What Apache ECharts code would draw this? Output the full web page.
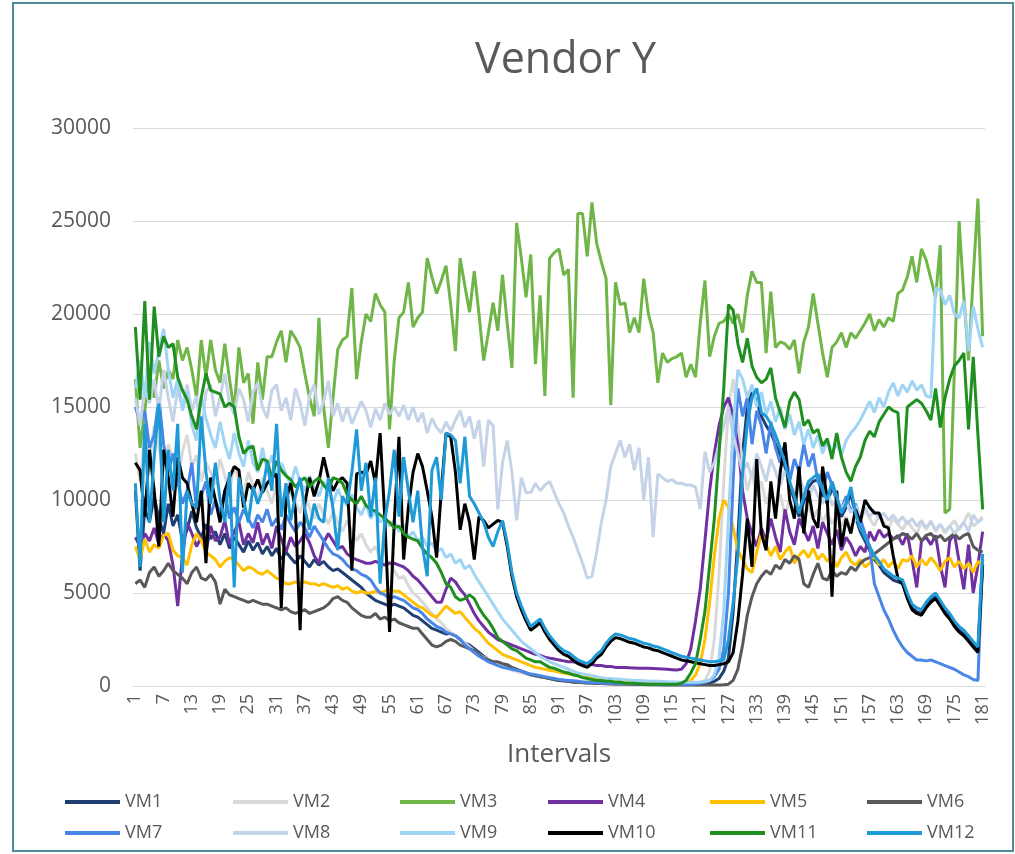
<!DOCTYPE html>
<html>
<head>
<meta charset="utf-8">
<title>Vendor Y</title>
<script src="https://cdn.jsdelivr.net/npm/echarts/dist/echarts.min.js"></script>
<style>
    html, body { margin: 0; padding: 0; background: #fff; }
    #main { width: 1015px; height: 854px; }
</style>
</head>
<body>
<div id="main"></div>
<script>
// interval numbers 1..181 on the x axis
var intervals = Array.from({length: 181}, function (_, i) { return String(i + 1); });
var yTicks = [0, 5000, 10000, 15000, 20000, 25000, 30000];

var vmNames = ['VM1', 'VM2', 'VM3', 'VM4', 'VM5', 'VM6', 'VM7', 'VM8', 'VM9', 'VM10', 'VM11', 'VM12'];
var vmColors = ['#1f3f73', '#d9d9d9', '#70b548', '#7030a0', '#ffc000', '#595959',
                '#4a86e8', '#c5d3e8', '#a0d4f5', '#000000', '#1f8f1f', '#1e9bd7'];

var vm1 = [10500,6200,9500,8800,10200,9000,8200,9800,8600,9200,
    7800,8400,9400,8500,8000,8700,7900,8300,7600,8200,
    7400,8000,7600,7200,7800,7300,7700,7100,7500,7000,
    7400,6800,7200,6900,6600,7000,6700,6400,6800,6500,
    6700,6400,6200,6300,6100,5900,5700,5500,5300,5000,
    4800,4600,4500,4400,4300,4400,4300,4200,4000,3800,
    3700,3500,3300,3100,3000,2900,2800,2850,2700,2500,
    2300,2200,2000,1800,1600,1400,1300,1200,1100,1000,
    900,850,800,700,600,550,500,450,400,350,
    300,280,250,220,200,190,180,170,160,150,
    150,140,140,130,130,120,120,120,110,110,
    110,100,100,100,100,100,100,100,100,100,
    110,120,150,250,400,800,1500,4000,8000,12500,
    15000,15800,15300,14500,14000,13600,13000,12400,11800,10800,
    10000,9100,9900,10700,11000,11100,10300,9800,10700,10000,
    9100,9600,10400,9100,8300,7800,7300,6800,6500,6100,
    5900,5700,5600,5500,4800,4200,4000,3900,4300,4600,
    4800,4400,4000,3700,3300,3000,2800,2500,2200,1900,
    6800];

var vm2 = [12500,11000,13500,12000,14000,12800,11500,13000,12200,11000,
    12600,13500,11800,12400,11000,12000,11500,10800,12200,11300,
    10500,11800,11000,10300,11500,10800,10000,11200,10500,9800,
    10900,10200,9600,10500,9900,9300,10200,9600,9000,9800,
    9200,8700,9400,8800,8300,8900,8300,7800,8200,7600,
    7200,7500,6900,6500,6700,6200,5800,5900,5400,5000,
    4800,4500,4200,3900,3600,3400,3100,2900,2700,2500,
    2300,2100,1900,1700,1550,1400,1250,1150,1050,950,
    850,780,700,650,600,550,500,450,420,380,
    350,320,300,280,260,250,240,230,220,210,
    200,200,190,190,180,180,170,170,160,160,
    160,150,150,150,150,150,150,150,160,180,
    200,300,800,2500,6000,11000,15000,16500,14000,12000,
    10500,11500,10200,11000,9800,10600,9500,10300,9200,10000,
    9400,9800,9100,9600,9000,9500,8800,9300,8700,9200,
    8600,9100,8500,9000,8800,9500,9000,8600,9200,8800,
    8500,9000,8700,8400,8900,8500,8200,8800,8400,8900,
    8300,8700,8200,8600,8900,8400,8800,9300,8600,8800,
    9100];

var vm3 = [16500,12800,14800,16800,15500,17500,16000,17000,16500,18600,
    17500,18200,17000,15500,18600,16600,18600,17000,16300,18400,
    16500,14800,18200,16300,16800,14100,17400,15400,17700,17700,
    18500,19100,17400,19100,18700,18200,16800,15500,14500,19800,
    15000,12800,15500,18100,18600,18800,21400,16500,18500,20000,
    19600,21100,20500,20100,13800,17500,19800,20100,21700,19300,
    19800,20100,23000,22000,21100,21800,22600,20500,18000,23000,
    21500,20100,22300,20000,17500,19000,20600,19100,22100,19500,
    17100,24900,23000,20900,23200,17300,21000,15600,23000,23300,
    23500,22100,22400,15500,25400,25400,23100,26000,23800,22800,
    21900,15100,21700,20500,20600,19000,19800,19000,21900,20000,
    19000,16300,17900,17400,17600,17700,17900,16600,17300,16600,
    19500,21800,17700,18800,19500,19600,20000,19500,20000,19000,
    21000,22300,21700,21700,17900,21200,18200,18500,18400,18100,
    18600,16800,18500,19300,21100,19500,17900,16600,18200,18500,
    19000,18200,19000,18700,19100,19500,20000,19100,19700,19300,
    19800,19600,21100,21300,22000,23100,21700,23500,22900,21900,
    20900,23700,9300,9500,17000,25000,21000,17500,22000,26200,
    18800];

var vm4 = [8000,7500,8200,7800,8500,7600,8200,7800,6500,4300,
    7000,8800,8200,7500,8000,7200,8600,7800,8000,8900,
    7600,8300,8800,7600,8200,7700,8800,7600,8200,7400,
    8600,7900,7200,8000,7500,7800,8200,7700,7000,6600,
    7700,8200,7800,7400,7500,7100,6900,6800,6700,6600,
    6600,6700,6600,6500,6600,6600,6500,6400,6200,5900,
    5700,5400,5100,4800,4500,4500,5200,5800,5600,5200,
    4900,4400,3900,3500,3200,2900,2700,2500,2400,2300,
    2200,2100,2000,1900,1800,1700,1650,1550,1500,1450,
    1400,1350,1300,1300,1250,1200,1200,1150,1100,1100,
    1050,1050,1000,1000,1000,980,970,960,950,950,
    940,930,920,900,880,860,900,1200,2000,3500,
    5200,7800,10500,12500,14000,15000,15500,14500,13000,10500,
    9000,8200,7500,8500,7800,9000,8000,7200,9500,8300,
    7600,9000,8400,7800,8600,7400,8800,8200,7600,8400,
    7300,8000,7600,7000,7500,7200,8300,7800,8400,8000,
    8200,7900,8100,7600,8200,6800,5300,7800,8000,7600,
    8100,6500,5300,7800,8200,6700,5200,7600,5000,6500,
    8300];

var vm5 = [7500,6800,7900,7200,7600,7400,8100,8200,7300,7000,
    6900,6500,7600,8200,7800,7200,7000,6800,6400,6700,
    6900,6800,6500,6200,6400,6300,6100,6000,6200,6000,
    5800,5700,5500,5500,5600,5500,5600,5500,5500,5400,
    5500,5400,5300,5400,5200,5300,5100,5000,5100,5000,
    5000,5100,5000,5100,5200,5100,5100,4900,4700,4500,
    4300,4200,4000,3800,3700,4000,4300,4100,3900,4000,
    3700,3400,3100,2900,2600,2300,2100,1900,1700,1600,
    1500,1400,1300,1200,1100,1000,950,900,850,800,
    750,700,650,600,550,500,480,450,420,400,
    380,350,330,300,280,260,240,220,200,190,
    180,170,160,150,140,140,150,200,300,600,
    1200,2500,4500,7000,9000,10000,9600,8500,7300,6800,
    6300,6100,7200,8200,7600,7000,7500,6800,7200,7500,
    6600,7000,7300,6900,7400,6800,7100,6700,7000,6400,
    6900,7200,6700,6500,6800,6400,6600,7000,6500,6800,
    6400,6700,6300,6800,6700,7000,6400,6800,6500,6900,
    6600,6200,6700,6900,6400,6700,6300,6600,6100,6700,
    6500];

var vm6 = [5500,5700,5300,6100,6400,5900,6200,6600,6200,6000,
    5800,5500,6100,6400,5800,5700,6000,5600,4400,5200,
    4900,4800,4700,4600,4500,4600,4500,4400,4400,4300,
    4200,4100,4200,4000,3900,4000,4100,3900,4000,4100,
    4200,4400,4700,4800,4600,4500,4200,4000,3800,3700,
    3700,3900,3600,3700,3500,3600,3400,3300,3200,3100,
    3100,2800,2500,2200,2100,2200,2400,2500,2400,2200,
    2100,2000,1900,1700,1500,1400,1300,1300,1200,1150,
    1000,900,800,700,600,550,500,450,400,350,
    300,280,250,220,200,180,160,150,140,130,
    120,110,100,100,90,90,80,80,80,70,
    70,70,60,60,60,60,50,50,50,50,
    50,50,50,60,60,70,100,300,900,2200,
    3800,4800,5500,5900,6200,6000,6500,6300,6800,6600,
    7000,6800,5500,5300,6000,6600,5800,5700,6200,5900,
    6100,6000,6400,6200,6600,6800,6900,7100,7300,7500,
    7700,7900,8000,8200,8100,7900,8200,7800,8100,8200,
    7900,8100,7800,8000,8200,7900,8100,8200,7500,7300,
    7200];

var vm7 = [15000,14200,14800,12800,13500,15500,13000,11500,12500,11000,
    9800,10500,12000,9500,10200,11000,9200,10000,9300,10500,
    9000,9600,8800,9500,9000,8500,9200,8800,9500,8600,
    9000,8400,9200,8700,8300,8800,8500,8000,8600,8200,
    7800,7400,7100,7000,6800,6500,6300,6200,6000,5900,
    5700,5300,5000,4900,4700,4800,4700,4600,4400,4200,
    4100,3900,3600,3400,3200,3100,2900,2800,2700,2500,
    2200,2000,1800,1600,1450,1300,1200,1100,1000,950,
    900,850,800,700,650,600,550,500,450,400,
    350,320,300,280,250,220,200,180,170,160,
    150,150,140,140,130,130,120,120,120,110,
    110,110,100,100,100,100,100,100,100,110,
    150,200,300,500,900,2000,5000,11000,16000,14500,
    15500,13000,14800,14000,12500,14200,12800,12000,13000,11000,
    12200,11500,13000,11800,12500,11000,10500,11500,10800,10000,
    9500,10200,9400,9800,9000,8200,7500,5500,4800,4100,
    3600,3000,2500,2100,1800,1600,1400,1400,1350,1400,
    1300,1200,1100,1000,900,750,600,500,350,300,
    6800];

var vm8 = [15500,14000,16000,15200,16500,14800,17000,15500,14200,16000,
    15000,16200,14800,15600,13500,15800,16200,14500,15500,16800,
    15200,14600,16000,15400,14200,15800,16300,15000,14400,15900,
    16200,14800,15500,14300,16000,15200,14000,15600,16200,14600,
    15300,16400,14500,15200,14200,15000,14100,14700,15300,14800,
    13900,14900,14300,15200,14600,15000,14500,15100,14300,15000,
    14200,14700,13600,14400,13900,13600,14200,13700,14300,14800,
    13900,14500,13300,14300,11800,14300,14000,9500,12000,13200,
    11500,8900,11200,10400,10400,10900,10500,10800,11000,10400,
    9800,9300,8600,8000,7300,6600,5800,5900,7200,8800,
    10000,11800,12500,13200,12300,13000,11600,12800,10000,12300,
    8000,11400,11200,11000,11100,10900,10900,10800,10800,10700,
    9500,12600,11500,12000,13000,14000,15000,13500,12500,11500,
    12000,11200,12500,11800,11000,12200,11500,10800,11600,10900,
    10300,11200,10600,10000,10800,10200,9800,10500,9700,10100,
    9500,9900,9300,9700,9200,9600,9100,9400,9000,9300,
    8900,9200,8800,9100,8700,9000,8600,8900,8500,8800,
    8400,8700,8300,8600,8200,8500,8800,8300,9200,8800,
    9000];

var vm9 = [16000,17500,15500,18500,16800,18000,19200,17000,15500,16500,
    14800,15800,14000,13200,15600,14400,13500,12800,14200,13000,
    12200,13600,12500,11800,13200,12000,11500,12800,11600,12400,
    11200,12000,11400,10800,11800,11000,10500,11300,10700,10200,
    11000,10400,9800,10600,10000,9700,10300,9600,9200,9800,
    9000,9400,8800,9100,8600,8900,8300,8700,8000,8300,
    7800,8000,7500,7700,7200,7400,6900,7100,6600,6800,
    6300,6500,6000,5600,5200,4800,4400,4000,3600,3300,
    3000,2700,2400,2200,2000,1800,1600,1450,1300,1200,
    1100,1000,900,800,700,650,600,550,500,450,
    420,400,380,360,340,320,300,290,280,270,
    260,250,240,230,220,210,200,200,200,200,
    220,250,300,600,1500,4000,9000,14000,17000,16500,
    15500,16200,15000,15800,14600,15300,14200,15000,13800,14600,
    13500,14200,13000,13800,12800,13500,12500,13200,12600,13000,
    12400,13200,13600,13900,14300,14800,15300,14700,15500,15000,
    15800,16300,15600,16200,15800,16400,15900,16200,15600,15500,
    21400,21300,20500,21000,20000,19800,20700,18000,20400,19200,
    18200];

var vm10 = [12000,11600,9100,12700,10500,7500,12700,11200,9100,12300,
    11200,10900,9800,8800,10500,6600,11200,10000,8800,10500,
    11200,11800,11600,9600,10900,10500,11100,10400,10900,11200,
    11400,4200,10000,10900,9500,3000,9800,11200,10200,11000,
    12300,11200,10500,11000,11200,10900,6200,11400,11500,11400,
    12100,10900,13600,9000,2900,8800,13400,6800,9600,11500,
    12500,11800,10500,9100,6900,10500,13600,13400,11500,8400,
    9800,8800,6800,9100,8900,8500,8700,8900,8800,7500,
    5900,4800,4100,3500,3000,3200,3400,2900,2500,2200,
    1900,1700,1600,1400,1200,1100,1000,1200,1500,1700,
    2100,2400,2600,2550,2450,2350,2300,2200,2100,2050,
    1950,1900,1800,1700,1600,1500,1400,1350,1300,1250,
    1200,1150,1100,1100,1150,1200,1300,1800,3500,6000,
    9000,6400,12200,8200,7300,11000,9000,11500,13100,10000,
    9000,11800,8200,10500,9000,8500,11800,10000,4800,10500,
    7500,9000,8200,9500,8800,10000,9600,9300,9300,8600,
    8500,7000,5800,5500,4700,4100,3900,3800,4200,4500,
    4700,4300,3900,3600,3200,2900,2700,2400,2100,1800,
    6500];

var vm11 = [19300,15400,20700,15400,20400,17700,18800,18200,18400,16600,
    15900,15400,14500,13800,15500,16800,15900,15800,15700,15000,
    15200,15000,13400,12500,12800,12900,11600,12200,12100,11200,
    12100,11600,11300,11100,10700,11000,11200,10700,11000,11200,
    10800,10500,11200,11100,10900,10300,10000,9800,10200,9700,
    9500,9400,9200,9000,8800,8500,8600,8200,8000,7900,
    7800,7400,7100,6900,6600,6100,5500,5300,4800,4600,
    4700,4900,4700,4200,3800,3500,3100,2600,2400,2200,
    2000,1900,1700,1500,1400,1300,1300,1150,1000,950,
    850,750,700,600,550,450,400,350,300,300,
    250,250,200,200,150,150,150,120,100,100,
    100,100,100,100,100,100,150,300,700,1200,
    2500,4000,6500,9000,12500,16000,20500,20200,18400,17400,
    18700,17200,16600,16300,16500,17100,15500,14700,13900,15300,
    15800,15400,14000,14300,13600,13800,12900,13300,12200,13600,
    12300,11500,11000,11800,12300,13200,13700,13400,14200,14600,
    15000,14800,14700,10900,15000,15200,15400,15200,14800,14300,
    16000,13900,15500,16500,17200,17500,17900,13800,17700,13500,
    9500];

var vm12 = [10900,6400,14100,8800,12300,15200,8800,12700,10500,14100,
    6100,10500,9800,9600,14500,11500,9800,12000,10000,8800,
    11500,5300,11200,10000,8800,10700,9800,10500,12000,10500,
    14100,9100,10900,8900,10200,11200,9500,8400,9800,9000,
    8800,11200,9500,7300,10200,9800,11500,13800,10500,12000,
    9100,11200,5500,8900,10500,12700,9100,12300,10500,8800,
    10500,7500,5900,11600,12300,10000,13600,13500,13200,10900,
    13400,10200,9800,9300,8800,8000,7500,8300,8900,7700,
    6100,5000,4300,3700,3200,3400,3600,3100,2700,2400,
    2100,1900,1800,1600,1400,1300,1200,1400,1700,1900,
    2300,2600,2800,2750,2650,2550,2500,2400,2300,2250,
    2150,2100,2000,1900,1800,1700,1600,1550,1500,1450,
    1400,1350,1300,1300,1350,1400,2500,4500,7000,11400,
    14100,15500,16000,14700,14500,14100,13500,12800,12000,11000,
    10200,9300,10200,11000,11200,11400,10500,10000,11000,10200,
    9300,9800,10700,9300,8500,8000,7500,7000,6700,6300,
    6100,5900,5800,5700,5000,4400,4200,4100,4500,4800,
    5000,4600,4200,3900,3500,3200,3000,2700,2400,2100,
    7100];

var vmData = [vm1, vm2, vm3, vm4, vm5, vm6, vm7, vm8, vm9, vm10, vm11, vm12];

var myChart = echarts.init(document.getElementById('main'));

var seriesList = vmNames.map(function (name, i) {
    return {
        name: name,
        type: 'line',
        data: vmData[i],
        symbol: 'none',
        showSymbol: false,
        lineStyle: { color: vmColors[i], width: 3 },
        itemStyle: { color: vmColors[i] }
    };
});

// legend: 6 columns of 2 rows, like the Excel layout
var legendCols = [60, 228, 395, 543, 705, 862];
var legends = legendCols.map(function (x, c) {
    return {
        orient: 'vertical',
        left: x,
        top: 788,
        icon: 'rect',
        itemWidth: 55,
        itemHeight: 4,
        itemGap: 13,
        textStyle: { fontSize: 18, color: '#595959', fontFamily: 'Open Sans' },
        data: [vmNames[c], vmNames[c + 6]]
    };
});

var option = {
    animation: false,
    backgroundColor: '#fff',
    color: vmColors,
    title: {
        text: 'Vendor Y',
        left: 470,
        top: 34,
        textStyle: { fontSize: 43, fontWeight: 'normal', color: '#595959', fontFamily: 'Open Sans' }
    },
    legend: legends,
    grid: {
        left: 133,
        right: 30,
        top: 128,
        bottom: 168
    },
    xAxis: {
        type: 'category',
        data: intervals,
        boundaryGap: true,
        name: 'Intervals',
        nameLocation: 'middle',
        nameGap: 56,
        nameTextStyle: { fontSize: 26, color: '#595959', fontFamily: 'Open Sans' },
        axisLine: { lineStyle: { color: '#d9d9d9', width: 1 } },
        axisTick: { show: false },
        axisLabel: {
            interval: 5,
            rotate: 90,
            fontSize: 18,
            margin: 8,
            color: '#595959',
            fontFamily: 'Open Sans'
        },
        splitLine: { show: false }
    },
    yAxis: {
        type: 'value',
        min: yTicks[0],
        max: yTicks[yTicks.length - 1],
        interval: 5000,
        axisLine: { show: false },
        axisTick: { show: false },
        axisLabel: {
            fontSize: 21,
            color: '#595959',
            margin: 22,
            fontFamily: 'Open Sans',
            formatter: function (v) { return String(v); }
        },
        splitLine: { lineStyle: { color: '#d9d9d9', width: 1 } }
    },
    graphic: [{
        type: 'rect',
        shape: { x: 13, y: 3, width: 1000, height: 848 },
        style: { fill: 'none', stroke: '#4d8c99', lineWidth: 2 },
        silent: true
    }],
    series: seriesList
};
myChart.setOption(option);
</script>
</body>
</html>
